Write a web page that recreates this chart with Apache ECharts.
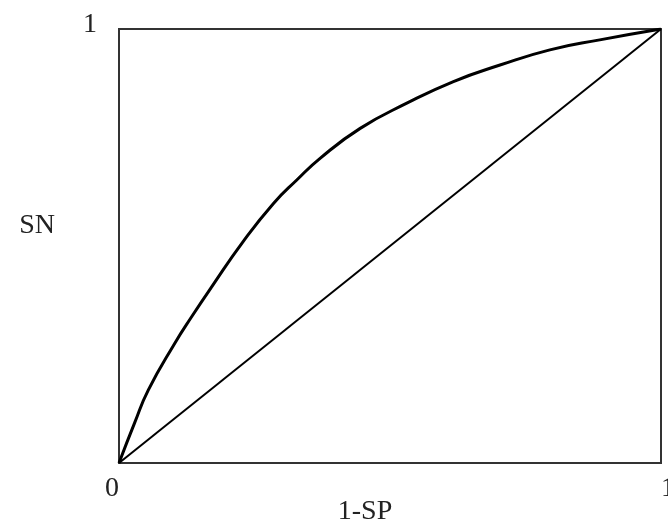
<!DOCTYPE html>
<html>
<head>
<meta charset="utf-8">
<script src="https://cdn.jsdelivr.net/npm/echarts@6/dist/echarts.min.js"></script>
<style>html,body{margin:0;padding:0;background:#fff}#c{width:668px;height:527px}</style>
</head>
<body>
<div id="c"></div>
<script>
// Data
var rocX = [0, 0.029, 0.054, 0.103, 0.134, 0.171, 0.229, 0.285, 0.328, 0.371, 0.445, 0.531, 0.617, 0.703, 0.795, 0.887, 1];
var rocY = [0, 0.093, 0.168, 0.276, 0.337, 0.406, 0.510, 0.598, 0.652, 0.702, 0.771, 0.829, 0.879, 0.917, 0.952, 0.975, 1];
var diagX = [0, 1];
var diagY = [0, 1];
var xTickLabels = ['0', '1'];
var yTickLabels = ['', '1'];
var xName = '1-SP';
var yName = 'SN';

var font = '"Liberation Serif", "Times New Roman", serif';
var chart = echarts.init(document.getElementById('c'), null, {renderer: 'canvas'});
chart.setOption({
  animation: false,
  backgroundColor: '#fff',
  grid: {left: 119, top: 29, right: 7, bottom: 64, containLabel: false, outerBoundsMode: 'none',
         show: true, borderColor: '#333', borderWidth: 2, backgroundColor: 'transparent'},
  xAxis: {
    type: 'value', min: 0, max: 1, interval: 1,
    axisLine: {show: false}, axisTick: {show: false}, splitLine: {show: false},
    axisLabel: {
      margin: 12, fontFamily: font, fontSize: 28, color: '#222',
      alignMinLabel: 'right', alignMaxLabel: 'left',
      formatter: function (v) { return xTickLabels[Math.round(v)]; }
    },
    name: xName, nameLocation: 'middle', nameGap: 35, nameMoveOverlap: false,
    nameTextStyle: {fontFamily: font, fontSize: 28, color: '#222', padding: [0, 50, 0, 0]}
  },
  yAxis: {
    type: 'value', min: 0, max: 1, interval: 1,
    axisLine: {show: false}, axisTick: {show: false}, splitLine: {show: false},
    axisLabel: {
      margin: 22, fontFamily: font, fontSize: 28, color: '#222',
      verticalAlign: 'bottom', lineHeight: 8,
      formatter: function (v) { return yTickLabels[Math.round(v)]; }
    },
    name: yName, nameLocation: 'middle', nameGap: 64, nameRotate: 0, nameMoveOverlap: false,
    nameTextStyle: {fontFamily: font, fontSize: 28, color: '#222', verticalAlign: 'bottom', lineHeight: 41}
  },
  series: [
    {
      type: 'line', smooth: true, showSymbol: false,
      data: rocX.map(function (x, i) { return [x, rocY[i]]; }),
      lineStyle: {color: '#000', width: 3}
    },
    {
      type: 'line', showSymbol: false,
      data: diagX.map(function (x, i) { return [x, diagY[i]]; }),
      lineStyle: {color: '#000', width: 2}
    }
  ]
});
</script>
</body>
</html>
